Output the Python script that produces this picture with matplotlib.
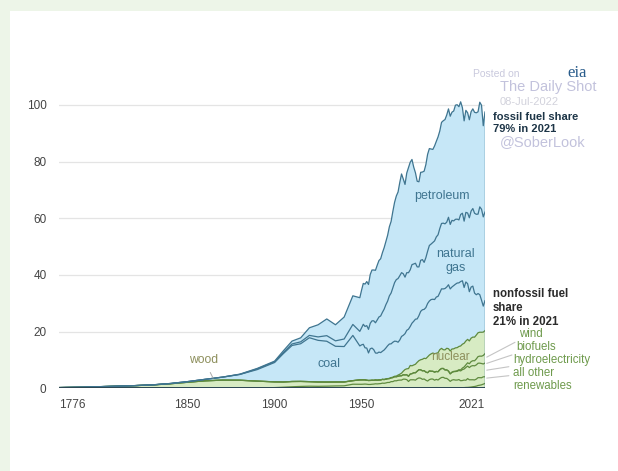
import numpy as np
import matplotlib
matplotlib.use("Agg")
import matplotlib.pyplot as plt
from matplotlib.patches import Rectangle

plt.rcParams['font.family'] = ['Liberation Sans', 'DejaVu Sans']

# U.S. primary energy consumption by source, quadrillion Btu
years_early = [1776, 1780, 1790, 1800, 1810, 1820, 1830, 1840, 1850, 1860, 1870, 1880, 1890,
               1900, 1905, 1910, 1915, 1920, 1925, 1930, 1935, 1940, 1945]
years = years_early + list(range(1949, 2022))

petroleum = [0, 0, 0, 0, 0, 0, 0, 0, 0, 0, 0.01, 0.10, 0.16,
             0.23, 0.61, 1.01, 1.42, 2.68, 4.28, 5.90, 5.68, 7.76, 10.11,
             11.88, 13.32, 14.43, 14.96, 15.56, 15.84, 17.25, 17.94, 17.93, 18.53,
             19.32, 19.92, 20.22, 21.05, 21.70, 22.30, 23.25, 24.40, 25.28, 26.98,
             28.34, 29.52, 30.56, 32.95, 34.84, 33.45, 32.73, 35.18, 37.12, 37.97,
             37.12, 34.20, 31.93, 30.23, 30.05, 31.05, 30.92, 32.20, 32.87, 34.22,
             34.21, 33.55, 32.85, 33.53, 33.74, 34.56, 34.44, 35.68, 36.16, 36.82,
             37.84, 38.26, 38.19, 38.19, 38.81, 40.29, 40.39, 39.96, 39.77, 37.28,
             35.40, 36.01, 35.39, 34.60, 35.09, 35.19, 35.63, 35.83, 36.13, 36.93,
             36.72, 32.17, 35.33]

natural_gas = [0, 0, 0, 0, 0, 0, 0, 0, 0, 0, 0, 0, 0.26,
               0.25, 0.37, 0.54, 0.67, 0.83, 1.21, 1.97, 1.92, 2.66, 3.87,
               5.15, 5.97, 7.05, 7.55, 7.91, 8.33, 9.00, 9.61, 10.19, 10.66,
               11.72, 12.39, 12.93, 13.73, 14.40, 15.29, 15.77, 16.99, 17.94, 19.21,
               20.68, 21.79, 22.47, 22.70, 22.51, 21.73, 19.95, 20.35, 19.93, 20.00,
               20.67, 20.24, 19.74, 18.36, 17.20, 18.03, 17.70, 16.59, 17.64, 18.45,
               19.60, 19.60, 20.03, 20.71, 21.23, 21.73, 22.67, 23.09, 23.22, 22.83,
               22.91, 23.82, 22.77, 23.51, 22.83, 22.91, 22.56, 22.22, 23.66, 23.84,
               23.42, 24.57, 24.95, 26.09, 26.81, 27.38, 28.19, 28.40, 28.03, 31.01,
               32.10, 31.50, 31.30]

coal = [0, 0, 0, 0.01, 0.01, 0.01, 0.03, 0.09, 0.22, 0.52, 1.05, 2.05, 4.06,
        6.84, 10.00, 12.71, 13.30, 15.50, 14.70, 14.40, 12.60, 12.50, 15.97,
        11.98, 12.35, 12.55, 11.31, 11.37, 9.72, 11.17, 11.35, 10.82, 9.53,
        9.52, 9.84, 9.62, 9.91, 10.41, 10.96, 11.58, 12.14, 11.91, 12.33,
        12.38, 12.27, 11.60, 12.08, 12.97, 12.66, 12.66, 13.58, 13.92, 13.77,
        15.04, 15.42, 15.91, 15.32, 15.89, 17.07, 17.48, 17.26, 18.01, 18.85,
        19.07, 19.17, 18.99, 19.12, 19.84, 19.91, 20.09, 21.00, 21.45, 21.66,
        21.62, 22.58, 21.91, 21.90, 22.32, 22.47, 22.80, 22.45, 22.75, 22.39,
        19.69, 20.83, 19.66, 17.38, 18.04, 17.99, 15.55, 14.23, 13.84, 13.24,
        11.32, 9.18, 10.55]

nuclear = [0] * 23 + [
    0, 0, 0, 0, 0, 0, 0, 0, 0, 0,
    0.00, 0.01, 0.02, 0.03, 0.04, 0.04, 0.04, 0.06, 0.09, 0.14,
    0.15, 0.24, 0.41, 0.58, 0.91, 1.27, 1.90, 2.11, 2.70, 3.02,
    2.78, 2.74, 3.01, 3.13, 3.20, 3.55, 4.08, 4.38, 4.75, 5.59,
    5.60, 6.10, 6.42, 6.48, 6.41, 6.69, 7.08, 7.09, 6.60, 7.07,
    7.61, 7.86, 8.03, 8.15, 7.96, 8.22, 8.16, 8.21, 8.46, 8.43,
    8.36, 8.43, 8.27, 8.06, 8.27, 8.34, 8.34, 8.43, 8.42, 8.44,
    8.45, 8.25, 8.13]

hydro = [0, 0, 0, 0, 0, 0, 0, 0, 0, 0, 0, 0, 0.02,
         0.25, 0.39, 0.54, 0.66, 0.74, 0.70, 0.75, 0.83, 0.88, 1.44,
         1.42, 1.42, 1.45, 1.50, 1.44, 1.36, 1.36, 1.43, 1.48, 1.59,
         1.55, 1.61, 1.66, 1.82, 1.77, 1.89, 2.06, 2.06, 2.35, 2.35,
         2.65, 2.63, 2.82, 2.86, 2.86, 3.18, 3.15, 2.98, 2.33, 2.94,
         2.93, 2.90, 2.76, 3.27, 3.53, 3.39, 2.97, 3.07, 2.63, 2.33,
         2.84, 3.05, 3.02, 2.62, 2.89, 2.68, 3.21, 3.59, 3.64, 3.30,
         3.27, 2.81, 2.24, 2.69, 2.83, 2.69, 2.70, 2.87, 2.45, 2.51,
         2.67, 2.54, 3.10, 2.63, 2.56, 2.47, 2.32, 2.47, 2.77, 2.66,
         2.49, 2.59, 2.35]

# wood / biomass / biofuels
biofuels = [0.25, 0.30, 0.40, 0.58, 0.75, 0.95, 1.20, 1.60, 2.14, 2.64, 2.89, 2.85, 2.52,
            2.02, 1.84, 1.86, 1.77, 1.61, 1.53, 1.46, 1.40, 1.36, 1.26,
            1.55, 1.56, 1.54, 1.47, 1.40, 1.40, 1.42, 1.42, 1.34, 1.34,
            1.32, 1.32, 1.30, 1.32, 1.31, 1.34, 1.33, 1.37, 1.34, 1.42,
            1.44, 1.43, 1.43, 1.50, 1.53, 1.54, 1.50, 1.71, 1.84, 2.04,
            2.15, 2.48, 2.60, 2.66, 2.90, 2.97, 2.99, 2.93, 2.87, 2.94,
            3.06, 2.74, 2.74, 2.83, 2.79, 2.90, 3.10, 3.16, 3.11, 2.93,
            2.97, 3.01, 2.62, 2.71, 2.81, 3.01, 3.10, 3.21, 3.47, 3.85,
            3.90, 4.51, 4.41, 4.31, 4.82, 4.99, 4.98, 5.02, 5.09, 5.13,
            5.03, 4.53, 4.84]

wind = [0] * 23 + [0] * 40 + [
    0.02, 0.03, 0.03, 0.03, 0.03, 0.04, 0.03, 0.03, 0.03, 0.03,
    0.05, 0.06, 0.07, 0.11, 0.12, 0.14, 0.18, 0.26, 0.34, 0.55,
    0.72, 0.92, 1.17, 1.34, 1.60, 1.73, 1.78, 2.10, 2.34, 2.48,
    2.58, 3.00, 3.32]

# solar + geothermal
other_renewables = [0] * 23 + [
    0, 0, 0, 0, 0, 0, 0, 0, 0, 0,
    0.00, 0.00, 0.00, 0.00, 0.00, 0.00, 0.00, 0.00, 0.00, 0.01,
    0.01, 0.01, 0.01, 0.03, 0.04, 0.05, 0.07, 0.08, 0.08, 0.06,
    0.08, 0.11, 0.12, 0.11, 0.13, 0.17, 0.20, 0.22, 0.23, 0.23,
    0.22, 0.23, 0.24, 0.24, 0.25, 0.24, 0.22, 0.23, 0.24, 0.23,
    0.23, 0.23, 0.21, 0.21, 0.21, 0.21, 0.21, 0.22, 0.22, 0.23,
    0.24, 0.30, 0.32, 0.38, 0.45, 0.55, 0.63, 0.77, 0.99, 1.09,
    1.23, 1.46, 1.72]

x_ticks = [1776, 1850, 1900, 1950, 2021]

BLUE = '#c6e7f7'
GREEN = '#d7ebc3'
TEAL = '#3f7590'
DKGREEN = '#5e8a3e'

layers = [other_renewables, hydro, biofuels, wind, nuclear, coal, natural_gas, petroleum]
fill_cols = [GREEN] * 5 + [BLUE] * 3
line_cols = [DKGREEN] * 5 + [TEAL] * 3

fig = plt.figure(figsize=(6.18, 4.71), dpi=100, facecolor='#edf5e8')
fig.add_artist(Rectangle((10 / 618, 0), 1, 1 - 11 / 471, transform=fig.transFigure,
                         facecolor='white', edgecolor='none', zorder=-1))

ax = fig.add_axes([59 / 618, (471 - 388.3) / 471, (485 - 59) / 618, 105 * 2.833 / 471])
ax.set_facecolor('none')

ax.stackplot(years, layers, colors=fill_cols, linewidth=0, zorder=2)
tops = np.cumsum(np.array(layers, dtype=float), axis=0)
for top, c in zip(tops, line_cols):
    ax.plot(years, top, color=c, lw=0.9, zorder=3)
ax.vlines(2021, 0, tops[-1][-1], color=TEAL, lw=1.0, zorder=3)
ax.axhline(0, color='#2c4653', lw=1.4, zorder=4)

ax.set_xlim(1776, 2021)
ax.set_ylim(0, 105)
ax.set_yticks([0, 20, 40, 60, 80, 100])
ax.set_xticks(x_ticks)
ax.grid(axis='y', color='#e4e4e4', lw=0.9, zorder=0)
ax.grid(axis='x', visible=False)
for s in ax.spines.values():
    s.set_visible(False)
ax.tick_params(length=0, labelsize=8.5, colors='#444444')
ax.tick_params(axis='y', pad=9)
ax.tick_params(axis='x', pad=8)
xl = ax.get_xticklabels()
xl[0].set_ha('left')
xl[-1].set_ha('right')

# labels inside the chart
ax.text(1996.5, 67.9, 'petroleum', color=TEAL, fontsize=9, ha='center', va='center', zorder=5)
ax.text(2004.3, 44.8, 'natural\ngas', color=TEAL, fontsize=9, ha='center', va='center',
        linespacing=1.2, zorder=5)
ax.text(1931, 8.6, 'coal', color=TEAL, fontsize=9, ha='center', va='center', zorder=5)
ax.text(2001.4, 11.0, 'nuclear', color='#8d8f5c', fontsize=8.5, ha='center', va='center', zorder=5)
ax.annotate('wood', xy=(1864.6, 3.6), xytext=(1859.4, 10.0), color='#8d8f5c', fontsize=8.7,
            ha='center', va='center', zorder=5,
            arrowprops=dict(arrowstyle='-', color='#aaaaaa', lw=0.7, shrinkA=3, shrinkB=0))

# right side labels
def fxy(x, y):
    return x / 618, 1 - y / 471

fig.text(*fxy(473, 74), 'Posted on', color='#c9c9dd', fontsize=7.5, ha='left', va='center')
fig.text(*fxy(567, 73), 'eia', color='#2a5d8c', fontsize=12,
         family=['Liberation Serif', 'DejaVu Serif'], ha='left', va='center')
fig.text(*fxy(500, 87), 'The Daily Shot', color='#c2c2dc', fontsize=10.5, ha='left', va='center')
fig.text(*fxy(500, 102), '08-Jul-2022', color='#d2d2dc', fontsize=8, ha='left', va='center')
fig.text(*fxy(500, 142), '@SoberLook', color='#c2c2dc', fontsize=10.5, ha='left', va='center')

fig.text(*fxy(493, 117), 'fossil fuel share', color='#1d3547', fontsize=8, fontweight='bold',
         ha='left', va='center')
fig.text(*fxy(493, 129), '79% in 2021', color='#1d3547', fontsize=8, fontweight='bold',
         ha='left', va='center')
fig.text(*fxy(493, 294), 'nonfossil fuel', color='#2b2b2b', fontsize=8.3, fontweight='bold',
         ha='left', va='center')
fig.text(*fxy(493, 308), 'share', color='#2b2b2b', fontsize=8.3, fontweight='bold',
         ha='left', va='center')
fig.text(*fxy(493, 322), '21% in 2021', color='#2b2b2b', fontsize=8.3, fontweight='bold',
         ha='left', va='center')

ren_labels = ['wind', 'biofuels', 'hydroelectricity', 'all other']
ren_pos = [(519, 334), (516, 347), (513, 360), (513, 373)]
ren_target = [11.0, 8.8, 6.4, 3.6]
for lab, (px, py), ty in zip(ren_labels, ren_pos, ren_target):
    fx, fy = fxy(px, py)
    ax.annotate(lab, xy=(2022, ty), xycoords='data', xytext=(fx, fy), textcoords='figure fraction',
                color='#6e9a4c', fontsize=8.3, ha='left', va='center', annotation_clip=False,
                arrowprops=dict(arrowstyle='-', color='#c4c4c4', lw=0.8, shrinkA=1, shrinkB=0))
fig.text(*fxy(513, 386), 'renewables', color='#6e9a4c', fontsize=8.3, ha='left', va='center')

fig.savefig('out.png', dpi=100)
